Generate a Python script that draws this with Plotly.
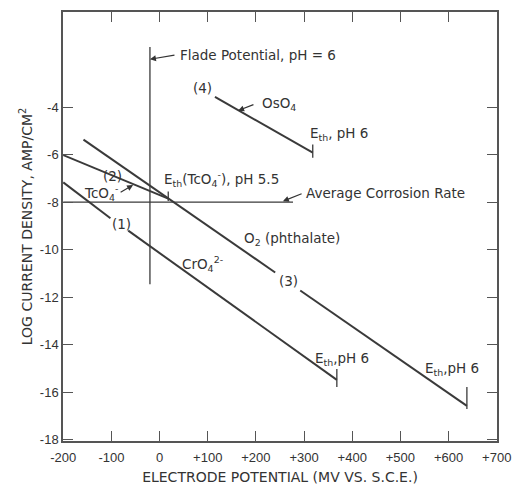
import plotly.graph_objects as go

# ---- data ----
x_ticks = [-200, -100, 0, 100, 200, 300, 400, 500, 600, 700]
x_tick_labels = ["-200", "-100", "0", "+100", "+200", "+300", "+400", "+500", "+600", "+700"]
y_ticks = [-4, -6, -8, -10, -12, -14, -16, -18]
y_tick_labels = ["-4", "-6", "-8", "-10", "-12", "-14", "-16", "-18"]

# (1) CrO4 2-  (gap for label)
line1_x = [-200, -102, None, -65, 368]
line1_y = [-7.17, -8.68, None, -9.2, -15.48]
# (2) TcO4-
line2_x = [-200, 18]
line2_y = [-6.02, -7.85]
# (3) O2 (phthalate) (gap for label)
line3_x = [-158, 240, None, 292, 638]
line3_y = [-5.37, -10.96, None, -11.72, -16.57]
# (4) OsO4
line4_x = [115, 318]
line4_y = [-3.57, -5.92]

# threshold tick marks E_th (x, y_low, y_high)
eth_x = [368, 18, 638, 318]
eth_ylo = [-15.78, -7.95, -16.7, -6.13]
eth_yhi = [-15.02, -7.55, -15.78, -5.58]

# Flade potential (vertical)
flade_x = [-20, -20]
flade_y = [-1.47, -11.45]
# Average corrosion rate (horizontal)
corr_x = [-200, 277]
corr_y = [-8.0, -8.0]

LINE = "#3a3a3a"
FONT = "DejaVu Sans"
TICKFONT = "Liberation Sans"

fig = go.Figure()

def seg(xs, ys, w=2.0):
    fig.add_trace(go.Scatter(x=xs, y=ys, mode="lines",
                             line=dict(color=LINE, width=w),
                             connectgaps=False, hoverinfo="skip",
                             showlegend=False))

seg(line1_x, line1_y)
seg(line2_x, line2_y)
seg(line3_x, line3_y)
seg(line4_x, line4_y)
for xv, lo, hi in zip(eth_x, eth_ylo, eth_yhi):
    seg([xv, xv], [lo, hi], 1.3)
seg(flade_x, flade_y, 1.3)
seg(corr_x, corr_y, 1.3)

# ---- labels ----
labels = [
    (-80, -8.94, "(1)", "center"),
    (-98, -6.9, "(2)", "center"),
    (267, -11.33, "(3)", "center"),
    (90, -3.19, "(4)", "center"),
    (-121, -7.6, "TcO<sub>4</sub><sup>-</sup>", "center"),
    (90, -10.61, "CrO<sub>4</sub><sup>2-</sup>", "center"),
    (171, -9.57, "O<sub>2</sub> (phthalate)", "left"),
    (38, -1.8, "Flade Potential, pH = 6", "left"),
    (208, -3.86, "OsO<sub>4</sub>", "left"),
    (308, -5.14, "E<sub>th</sub>, pH 6", "left"),
    (5, -7.02, "E<sub>th</sub>(TcO<sub>4</sub><sup>-</sup>), pH 5.5", "left"),
    (300, -7.6, "Average Corrosion Rate", "left"),
    (318, -14.58, "E<sub>th</sub>,pH 6", "left"),
    (546, -15.04, "E<sub>th</sub>,pH 6", "left"),
]
for xv, yv, t, anc in labels:
    fig.add_annotation(x=xv, y=yv, text=t, showarrow=False, xanchor=anc,
                       yanchor="middle", font=dict(family=FONT, size=13.5, color="#333"))

# ---- leader arrows (tail -> head) ----
arrows = [
    (34, -1.8, -20, -1.99),      # Flade
    (198, -3.87, 163, -4.15),    # OsO4
    (298, -7.62, 256, -7.96),    # average corrosion
    (-84, -7.62, -55, -7.28),    # TcO4-
]
for tx, ty, hx, hy in arrows:
    fig.add_annotation(x=hx, y=hy, ax=tx, ay=ty, axref="x", ayref="y",
                       xref="x", yref="y", text="", showarrow=True,
                       arrowhead=2, arrowsize=1, arrowwidth=1.2, arrowcolor="#333")

fig.update_layout(
    width=512, height=485,
    margin=dict(l=63, r=15, t=12, b=44),
    paper_bgcolor="white", plot_bgcolor="white",
    font=dict(family=FONT, size=13, color="#333"),
    xaxis=dict(range=[-200.5, 700.5], tickvals=x_ticks, ticktext=x_tick_labels,
               ticks="inside", ticklen=10, tickcolor="#555", tickwidth=1.4,
               showline=True, linecolor="#555", linewidth=1.5, mirror="ticks",
               showgrid=False, zeroline=False, automargin=False,
               ticklabeloverflow="allow", ticklabelstandoff=4,
               title=dict(text="ELECTRODE POTENTIAL (MV VS. S.C.E.)",
                          font=dict(size=14), standoff=10),
               tickfont=dict(family=TICKFONT, size=13)),
    yaxis=dict(range=[-18.05, 0], tickvals=y_ticks, ticktext=y_tick_labels,
               ticks="inside", ticklen=10, tickcolor="#555", tickwidth=1.4,
               showline=True, linecolor="#555", linewidth=1.5, mirror="ticks",
               showgrid=False, zeroline=False, automargin=False,
               title=dict(text="LOG CURRENT DENSITY, AMP/CM<sup>2</sup>",
                          font=dict(size=14), standoff=4),
               tickfont=dict(family=TICKFONT, size=13)),
)

fig.write_html("out.html", config={"displayModeBar": False},
               post_script="document.body.style.margin='0';document.body.style.overflow='hidden';")
